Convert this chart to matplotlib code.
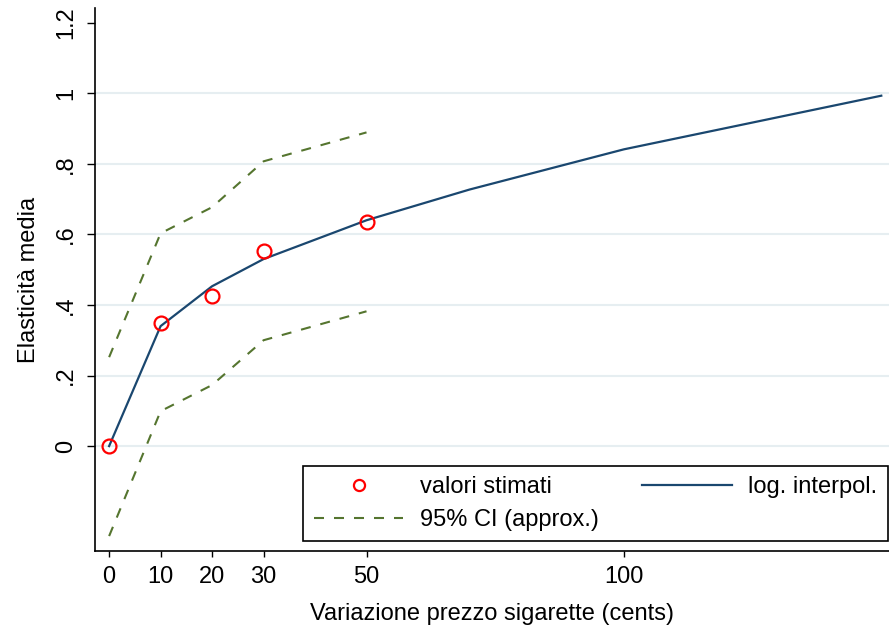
import numpy as np
import matplotlib
matplotlib.use("Agg")
from matplotlib import pyplot as plt

plt.rcParams['font.family'] = ['Liberation Sans', 'DejaVu Sans']

# valori stimati (punti)
x_stime = [0, 10, 20, 30, 50]
y_stime = [0.0, 0.349, 0.425, 0.553, 0.635]

# interpolazione logaritmica
x_interp = [0, 10, 20, 30, 50, 70, 100, 150]
y_interp = [0.0, 0.340, 0.453, 0.530, 0.640, 0.727, 0.841, 0.993]

# intervallo di confidenza 95%
ci_alto = [0.252, 0.603, 0.677, 0.807, 0.889]
ci_basso = [-0.255, 0.099, 0.173, 0.300, 0.382]

yticks = [0, 0.2, 0.4, 0.6, 0.8, 1.0, 1.2]
ylabels = ["0", ".2", ".4", ".6", ".8", "1", "1.2"]
xticks = [0, 10, 20, 30, 50, 100]

verde = "#55752f"
blu = "#1a476f"
fs = 17

fig = plt.figure(figsize=(8.89, 6.30), dpi=100)
ax = fig.add_axes([0.107, 0.125, 0.893, 0.862])

for v in yticks[:-1]:
    ax.axhline(v, color="#e6eef1", lw=1.5, zorder=0)

ax.plot(x_stime, ci_alto, color=verde, lw=1.5, dashes=(4.8, 4.8),
        label="95% CI (approx.)", zorder=2)
ax.plot(x_stime, ci_basso, color=verde, lw=1.5, dashes=(4.8, 4.8), zorder=2)
ax.plot(x_interp, y_interp, color=blu, lw=1.6, label="log. interpol.", zorder=3)
ax.plot(x_stime, y_stime, "o", mfc="none", mec="red", mew=1.6, ms=10,
        label="valori stimati", zorder=4)

ax.set_xlim(-2.72, 151.5)
ax.set_ylim(-0.298, 1.241)
ax.set_xticks(xticks)
ax.set_yticks(yticks)
ax.set_yticklabels(ylabels, rotation=90, va="center")
ax.tick_params(labelsize=fs, width=1, direction="out")
ax.tick_params(axis="x", length=4.5, pad=6)
ax.tick_params(axis="y", length=6, pad=7)

for s in ["top", "right"]:
    ax.spines[s].set_visible(False)
for s in ["left", "bottom"]:
    ax.spines[s].set_linewidth(1.2)

ax.set_xlabel("Variazione prezzo sigarette (cents)", fontsize=fs, labelpad=11)
ax.set_ylabel("Elasticità media", fontsize=fs, labelpad=11)

h, l = ax.get_legend_handles_labels()
order = [2, 0, 1]
leg = ax.legend([h[i] for i in order], [l[i] for i in order], ncol=2,
                loc="lower left", bbox_to_anchor=(0.262, 0.018),
                borderaxespad=0, fontsize=fs, frameon=True, fancybox=False,
                edgecolor="black", framealpha=1, borderpad=0.45,
                handlelength=3.8, labelspacing=0.45, columnspacing=1.86,
                handletextpad=0.68, markerscale=0.8)
leg.get_frame().set_linewidth(1.2)
fig.savefig("out.png", dpi=100)
